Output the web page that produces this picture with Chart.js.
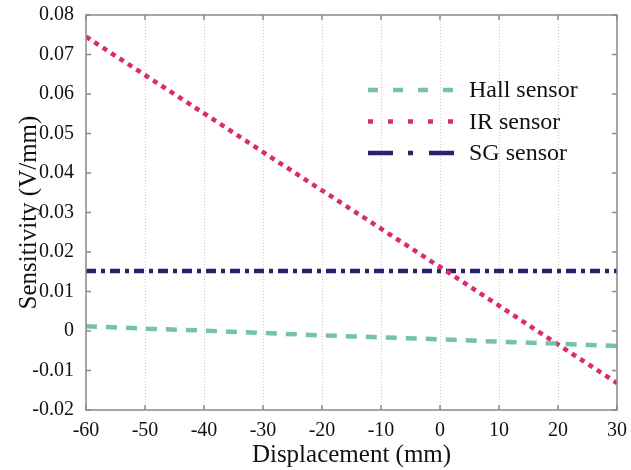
<!DOCTYPE html>
<html>
<head>
<meta charset="utf-8">
<script src="https://cdn.jsdelivr.net/npm/chart.js@4/dist/chart.umd.min.js"></script>
<style>
  html, body { margin: 0; padding: 0; background: #fff; }
  #plot { display: block; }
</style>
</head>
<body>
<canvas id="plot" width="631" height="470"></canvas>
<script>
// values
const displacement = [-60, -50, -40, -30, -20, -10, 0, 10, 20, 30];
const hallSensor = [0.0012, 0.0006, 0.0001, -0.0005, -0.0011, -0.0016, -0.0021, -0.0027, -0.0032, -0.0038];
const irSensor = [0.0745, 0.0648, 0.0551, 0.0453, 0.0356, 0.0259, 0.0162, 0.0064, -0.0034, -0.0132];
const sgSensor = [0.0152, 0.0152, 0.0152, 0.0152, 0.0152, 0.0152, 0.0152, 0.0152, 0.0152, 0.0152];
const seriesNames = ['Hall sensor', 'IR sensor', 'SG sensor'];
const xTicks = [-60, -50, -40, -30, -20, -10, 0, 10, 20, 30];
const yTicks = [-0.02, -0.01, 0, 0.01, 0.02, 0.03, 0.04, 0.05, 0.06, 0.07, 0.08];

const serif = '"Liberation Serif", "DejaVu Serif", serif';
const frameColor = '#8a8a8a';

const styles = [
    { color: '#74c4a3', dash: [11, 9], legendDash: [10, 15] },
    { color: '#da2a73', dash: [5, 5], legendDash: [5, 15] },
    { color: '#2c1f6e', dash: [10, 5, 4, 5], legendDash: [25, 15, 5, 16] }
];

function toPoints(values) {
    return displacement.map((x, i) => ({ x: x, y: values[i] }));
}

// frame on all four sides with small inward ticks
const framePlugin = {
    id: 'frame',
    afterDraw(chart) {
        const ctx = chart.ctx;
        const a = chart.chartArea;
        const xs = chart.scales.x;
        const ys = chart.scales.y;
        ctx.save();
        ctx.strokeStyle = frameColor;
        ctx.lineWidth = 1.5;
        ctx.strokeRect(a.left, a.top, a.right - a.left, a.bottom - a.top);
        ctx.beginPath();
        xTicks.forEach(v => {
            const px = xs.getPixelForValue(v);
            ctx.moveTo(px, a.top); ctx.lineTo(px, a.top + 5);
            ctx.moveTo(px, a.bottom); ctx.lineTo(px, a.bottom - 5);
        });
        yTicks.forEach(v => {
            const py = ys.getPixelForValue(v);
            ctx.moveTo(a.left, py); ctx.lineTo(a.left + 5, py);
            ctx.moveTo(a.right, py); ctx.lineTo(a.right - 5, py);
        });
        ctx.stroke();
        ctx.restore();
    }
};

// key drawn inside the plot, upper right
const keyPlugin = {
    id: 'key',
    afterDatasetsDraw(chart) {
        const ctx = chart.ctx;
        const a = chart.chartArea;
        const x0 = a.left + 282;
        const x1 = x0 + 86;
        ctx.save();
        ctx.font = '24px ' + serif;
        ctx.textBaseline = 'middle';
        ctx.fillStyle = '#111';
        seriesNames.forEach((name, i) => {
            const y = a.top + 75 + i * 31.5;
            ctx.strokeStyle = styles[i].color;
            ctx.lineWidth = 4.5;
            ctx.setLineDash(styles[i].legendDash);
            ctx.beginPath();
            ctx.moveTo(x0, y);
            ctx.lineTo(x1, y);
            ctx.stroke();
            ctx.setLineDash([]);
            ctx.fillText(name, x1 + 15, y + 1);
        });
        ctx.restore();
    }
};

const datasets = [hallSensor, irSensor, sgSensor].map((values, i) => ({
    label: seriesNames[i],
    data: toPoints(values),
    borderColor: styles[i].color,
    backgroundColor: styles[i].color,
    borderWidth: 4.5,
    borderDash: styles[i].dash,
    pointRadius: 0,
    tension: 0,
    fill: false
}));

new Chart(document.getElementById('plot'), {
    type: 'line',
    data: { datasets: datasets },
    options: {
        responsive: false,
        animation: false,
        devicePixelRatio: 1,
        layout: { padding: { left: 0, top: 15, right: 14, bottom: 0 } },
        plugins: {
            legend: { display: false },
            tooltip: { enabled: false }
        },
        scales: {
            x: {
                type: 'linear',
                min: -60,
                max: 30,
                afterFit(scale) {
                    scale.height = 60;
                    scale.paddingLeft = 0;
                    scale.paddingRight = 0;
                },
                afterBuildTicks(scale) { scale.ticks = xTicks.map(v => ({ value: v })); },
                ticks: {
                    color: '#111',
                    padding: 9,
                    maxRotation: 0,
                    font: { family: serif, size: 20 },
                    callback: v => String(v)
                },
                grid: { color: '#c8c8c8', lineWidth: 1, drawTicks: false },
                border: { display: false, dash: [1, 2] },
                title: {
                    display: true,
                    text: 'Displacement (mm)',
                    color: '#111',
                    font: { family: serif, size: 25 },
                    padding: { top: 0, bottom: 0 }
                }
            },
            y: {
                min: -0.02,
                max: 0.08,
                afterFit(scale) {
                    scale.width = 86;
                    scale.paddingTop = 0;
                    scale.paddingBottom = 0;
                },
                afterBuildTicks(scale) { scale.ticks = yTicks.map(v => ({ value: v })); },
                ticks: {
                    color: '#111',
                    padding: 12,
                    font: { family: serif, size: 20 },
                    callback: v => String(Math.round(v * 100) / 100)
                },
                grid: { display: false, drawTicks: false },
                border: { display: false },
                title: {
                    display: true,
                    text: 'Sensitivity (V/mm)',
                    color: '#111',
                    font: { family: serif, size: 25 },
                    padding: { top: 14, bottom: 0 }
                }
            }
        }
    },
    plugins: [framePlugin, keyPlugin]
});
</script>
</body>
</html>
